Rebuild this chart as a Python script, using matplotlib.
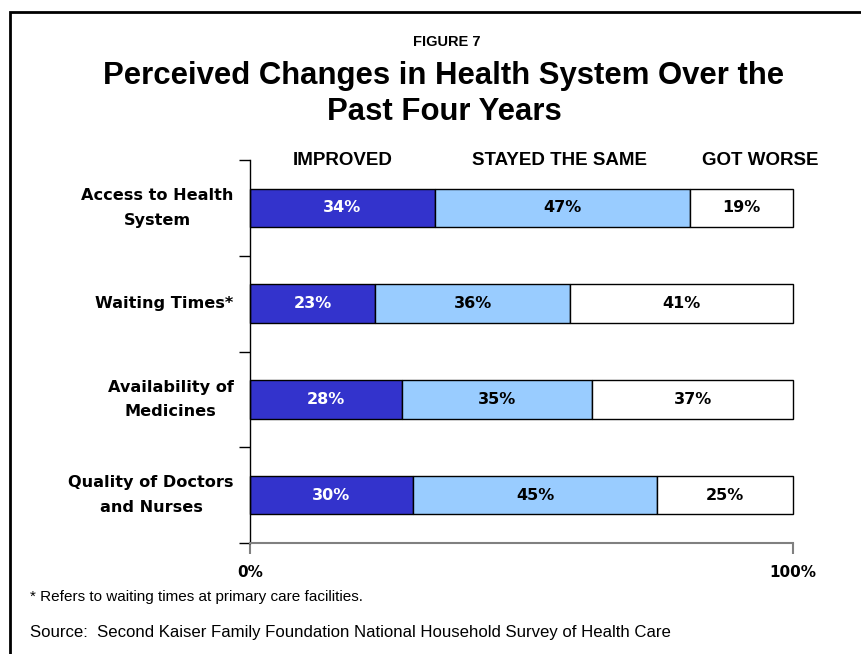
import numpy as np
import matplotlib
matplotlib.use('Agg')
import matplotlib.pyplot as plt
from matplotlib.patches import Rectangle

categories = ['Access to Health\nSystem', 'Waiting Times*',
              'Availability of\nMedicines', 'Quality of Doctors\nand Nurses']
improved = [34, 23, 28, 30]
same = [47, 36, 35, 45]
worse = [19, 41, 37, 25]
headers = ['IMPROVED', 'STAYED THE SAME', 'GOT WORSE']
header_x = [17, 57, 94]
x_ticks = [0, 100]
x_ticklabels = ['0%', '100%']

dark = '#3333CC'
light = '#99CCFF'
title_font = 'Liberation Sans'
label_font = 'DejaVu Sans'

fig = plt.figure(figsize=(8.61, 6.54), dpi=100)
ax = fig.add_axes([250 / 861, 1 - 543 / 654, 543 / 861, 383 / 654])

y = np.arange(len(categories))
h = 0.4
segments = [(improved, dark, 'white'), (same, light, 'black'), (worse, 'white', 'black')]
left = np.zeros(len(categories))
for vals, col, tcol in segments:
    vals = np.array(vals)
    bars = ax.barh(y, vals, left=left, height=h, color=col, edgecolor='black', linewidth=1)
    for b in bars:
        b.set_clip_on(False)
    for yi, l, v in zip(y, left, vals):
        ax.text(l + v / 2, yi, f'{v}%', ha='center', va='center', color=tcol,
                fontsize=11.5, fontweight='bold', family=label_font)
    left += vals

ax.set_xlim(0, 100)
ax.set_ylim(3.5, -0.5)
ax.set_yticks(np.arange(-0.5, 4, 1))
ax.set_yticklabels([])
ax.tick_params(axis='y', direction='out', length=8, width=1, color='black')
for yi, cat in zip(y, categories):
    ax.text(-0.03, yi, cat, transform=ax.get_yaxis_transform(), ha='right', va='center',
            ma='center', fontsize=11.6, fontweight='bold', family=label_font,
            linespacing=1.8)

ax.set_xticks(x_ticks)
ax.set_xticklabels(x_ticklabels, fontsize=11, fontweight='bold', family=label_font)
ax.tick_params(axis='x', direction='out', length=8, width=1.5, color='#808080', pad=8)

for s in ['top', 'right']:
    ax.spines[s].set_visible(False)
ax.spines['left'].set_color('black')
ax.spines['left'].set_linewidth(1)
ax.spines['bottom'].set_color('#808080')
ax.spines['bottom'].set_linewidth(1.5)

for hx, txt in zip(header_x, headers):
    ax.text(hx, 1.0, txt, transform=ax.get_xaxis_transform(), ha='center', va='center',
            fontsize=13.5, fontweight='bold', family=title_font)

fig.text(447 / 861, 1 - 42 / 654, 'FIGURE 7', ha='center', va='center',
         fontsize=10.5, fontweight='bold', family=title_font)
fig.text(444 / 861, 1 - 76 / 654, 'Perceived Changes in Health System Over the',
         ha='center', va='center', fontsize=22.4, fontweight='bold', family=title_font)
fig.text(444 / 861, 1 - 112 / 654, 'Past Four Years',
         ha='center', va='center', fontsize=22.4, fontweight='bold', family=title_font)

fig.text(30 / 861, 1 - 597 / 654, '* Refers to waiting times at primary care facilities.',
         ha='left', va='center', fontsize=11, family=title_font)
fig.text(30 / 861, 1 - 633 / 654,
         'Source:  Second Kaiser Family Foundation National Household Survey of Health Care',
         ha='left', va='center', fontsize=12.1, family=title_font)

# frame around the whole figure, open past the right and bottom edges
fig.patches.append(Rectangle((10 / 861, -0.1), 1.2, 1 - 12 / 654 + 0.1,
                             transform=fig.transFigure, fill=False,
                             edgecolor='black', linewidth=2))

fig.savefig('out.png', dpi=100)
plt.close(fig)
